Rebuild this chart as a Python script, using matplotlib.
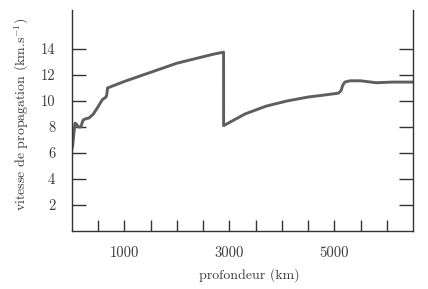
import matplotlib
matplotlib.use("Agg")
import matplotlib.pyplot as plt

plt.rcParams['font.family'] = ['cmr10', 'DejaVu Serif']
plt.rcParams['mathtext.fontset'] = 'cm'
plt.rcParams['axes.formatter.use_mathtext'] = True

depth = [0, 15, 35, 60, 90, 130, 170, 210, 240, 330, 410, 490, 580, 650, 665, 680,
         1000, 1500, 2000, 2500, 2700, 2890, 2891, 3300, 3700, 4100, 4500, 4800,
         5080, 5130, 5160, 5200, 5300, 5500, 5800, 6100, 6500]
speed = [6.3, 6.6, 7.4, 8.3, 8.2, 8.0, 8.0, 8.5, 8.6, 8.7, 9.0, 9.5, 10.1, 10.3, 10.5, 11.0,
         11.5, 12.2, 12.9, 13.4, 13.6, 13.75, 8.1, 9.0, 9.6, 10.0, 10.3, 10.45,
         10.6, 10.8, 11.2, 11.45, 11.55, 11.55, 11.4, 11.45, 11.45]

yticks = [2, 4, 6, 8, 10, 12, 14]
xticks = [500, 1000, 1500, 2000, 2500, 3000, 3500, 4000, 4500, 5000, 5500, 6000]
xlabels_shown = [1000, 3000, 5000]

fig = plt.figure(figsize=(4.28, 2.89), dpi=100)
ax = fig.add_axes([0.168, 0.2007, 0.797, 0.765])
ax.plot(depth, speed, color='#5e5e5e', lw=2.1, solid_joinstyle='round')
ax.set_xlim(0, 6500)
ax.set_ylim(0, 17)
ax.spines['top'].set_visible(False)
for s in ['left', 'right', 'bottom']:
    ax.spines[s].set_color('#333333')
    ax.spines[s].set_linewidth(1.0)
ax.set_yticks(yticks)
ax.set_yticklabels([str(v) for v in yticks])
ax.set_xticks(xticks)
ax.set_xticklabels([str(v) if v in xlabels_shown else '' for v in xticks])
ax.tick_params(axis='y', direction='in', length=10, width=1, color='#333333',
               right=True, labelsize=10.5, pad=12, labelcolor='#3a3a3a')
ax.tick_params(axis='x', direction='in', length=8, width=1, color='#333333',
               labelsize=10.5, pad=11, labelcolor='#3a3a3a')
ax.set_xlabel('profondeur (km)', fontsize=10, color='#3a3a3a')
ax.xaxis.set_label_coords(0.52, -0.17)
ax.set_ylabel(r'vitesse de propagation (km.s$^{-1}$)', fontsize=10, color='#3a3a3a')
ax.yaxis.set_label_coords(-0.12, 0.53)
fig.savefig('out.png', dpi=100)
